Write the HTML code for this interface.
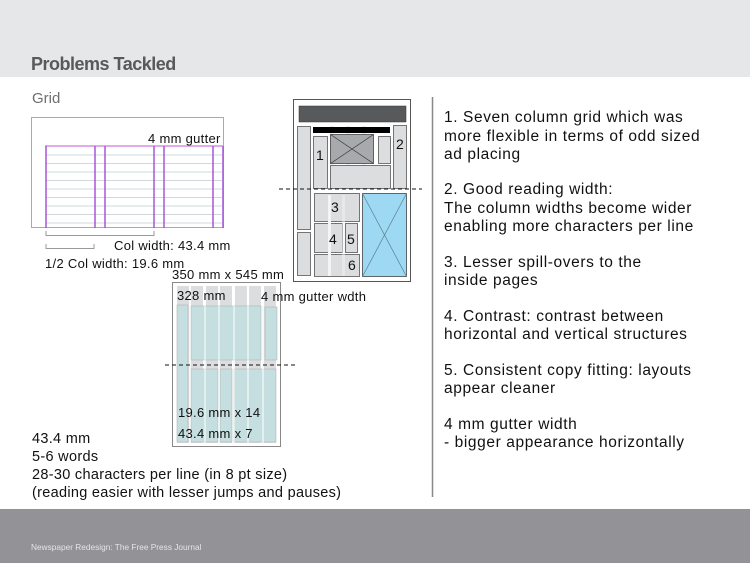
<!DOCTYPE html>
<html><head><meta charset="utf-8"><style>
body{margin:0;width:750px;height:563px;overflow:hidden;background:#fff}
svg{display:block}
text{font-family:"Liberation Sans",sans-serif}
</style></head><body>
<svg width="750" height="563" viewBox="0 0 750 563">
<rect x="0" y="0" width="750" height="77" fill="#e6e7e9"/>
<text x="31" y="70" font-size="18" font-weight="bold" fill="#58595b" letter-spacing="-0.5">Problems Tackled</text>
<text x="32" y="103" font-size="15" fill="#6d6e70">Grid</text>
<rect x="0" y="509" width="750" height="54" fill="#939397"/>
<text x="31" y="550" font-size="8.3" fill="#e4e4e6">Newspaper Redesign: The Free Press Journal</text>
<line x1="432.5" y1="97" x2="432.5" y2="497" stroke="#888" stroke-width="1.5"/>

<!-- grid box -->
<rect x="31.5" y="117.5" width="192" height="110" fill="#fff" stroke="#aaa"/>
<g stroke="#cfd8dc" stroke-width="1">
<line x1="46" y1="155" x2="224" y2="155"/><line x1="46" y1="163.5" x2="224" y2="163.5"/>
<line x1="46" y1="172" x2="224" y2="172"/><line x1="46" y1="180.5" x2="224" y2="180.5"/>
<line x1="46" y1="189" x2="224" y2="189"/><line x1="46" y1="197.5" x2="224" y2="197.5"/>
<line x1="46" y1="206" x2="224" y2="206"/><line x1="46" y1="214.5" x2="224" y2="214.5"/>
<line x1="46" y1="223" x2="224" y2="223"/>
</g>
<line x1="45" y1="146" x2="224" y2="146" stroke="#d88ee0" stroke-width="1.5"/>
<g stroke="#a855d8" stroke-width="1.5">
<line x1="46" y1="146" x2="46" y2="228"/><line x1="95" y1="146" x2="95" y2="228"/>
<line x1="105" y1="146" x2="105" y2="228"/><line x1="154" y1="146" x2="154" y2="228"/>
<line x1="164" y1="146" x2="164" y2="228"/><line x1="213" y1="146" x2="213" y2="228"/>
<line x1="223" y1="146" x2="223" y2="228"/>
</g>
<g font-size="13" fill="#111" letter-spacing="0.3">
<text x="148" y="143">4 mm gutter</text>
<text x="114" y="250">Col width: 43.4 mm</text>
<text x="45" y="268">1/2 Col width: 19.6 mm</text>
</g>
<path d="M46 231 V235.5 H154 V231" fill="none" stroke="#999"/>
<path d="M46 244 V248.5 H94 V244" fill="none" stroke="#999"/>

<!-- right page -->
<rect x="293.5" y="99.5" width="117" height="182" fill="#fff" stroke="#555"/>
<rect x="299" y="106" width="107" height="16" fill="#58595b" stroke="#333" stroke-width="0.5"/>
<g fill="#f0f0f0"><rect x="330" y="126" width="4" height="63"/><rect x="346" y="126" width="4" height="63"/><rect x="362" y="126" width="4" height="63"/></g>
<rect x="313" y="127" width="77" height="6" fill="#000"/>
<g fill="#dcdddf" stroke="#555" stroke-width="0.8">
<rect x="297.5" y="126.5" width="13" height="103"/>
<rect x="297.5" y="232.5" width="13" height="43"/>
<rect x="313.5" y="136.5" width="14" height="52"/>
<rect x="330.5" y="165.5" width="60" height="23"/>
<rect x="378.5" y="136.5" width="12" height="27"/>
<rect x="393.5" y="125.5" width="13" height="63"/>
<rect x="314.5" y="193.5" width="45" height="28"/>
<rect x="314.5" y="223.5" width="28" height="29"/>
<rect x="345.5" y="223.5" width="12" height="29"/>
<rect x="314.5" y="254.5" width="45" height="22"/>
</g>
<g fill="#f4f4f4"><rect x="328" y="195" width="3" height="81"/><rect x="342" y="195" width="3" height="81" opacity=".5"/></g>
<rect x="330.5" y="134.5" width="43" height="29" fill="#a7a9ac" stroke="#444" stroke-width="0.8"/>
<path d="M330.5 134.5 L373.5 163.5 M373.5 134.5 L330.5 163.5" stroke="#333" stroke-width="0.7"/>
<rect x="362.5" y="193.5" width="44" height="83" fill="#9dd9f3" stroke="#444" stroke-width="0.8"/>
<path d="M362.5 193.5 L406.5 276.5 M406.5 193.5 L362.5 276.5" stroke="#5a7f92" stroke-width="0.7"/>
<g font-size="14" fill="#111">
<text x="316" y="160">1</text><text x="396" y="149">2</text>
<text x="331" y="212">3</text><text x="329" y="244">4</text><text x="347" y="244">5</text><text x="348" y="270">6</text>
</g>
<line x1="279" y1="189" x2="422" y2="189" stroke="#111" stroke-width="1" stroke-dasharray="4,3"/>

<!-- second page -->
<rect x="172.5" y="282.5" width="108" height="164" fill="#fff" stroke="#888"/>
<g fill="#dcdddf">
<rect x="177" y="286" width="12" height="157"/><rect x="191" y="286" width="12" height="157"/>
<rect x="206" y="286" width="12" height="157"/><rect x="220" y="286" width="12" height="157"/>
<rect x="235" y="286" width="12" height="157"/><rect x="249" y="286" width="12" height="157"/>
<rect x="264" y="286" width="12" height="157"/>
</g>
<g fill="#c5dfe1" stroke="#aaa" stroke-width="0.5">
<rect x="177" y="305" width="11" height="137"/>
<rect x="191" y="306" width="70" height="54"/>
<rect x="265" y="307" width="12" height="53"/>
<rect x="191" y="369" width="27" height="73"/>
<rect x="220" y="369" width="12" height="73"/>
<rect x="234" y="369" width="42" height="73"/>
</g>
<g fill="#eef6f6" opacity=".7">
<rect x="189" y="306" width="2" height="136"/><rect x="204" y="306" width="2" height="136"/><rect x="218" y="306" width="2" height="136"/><rect x="233" y="306" width="2" height="136"/><rect x="247" y="306" width="2" height="136"/><rect x="262" y="306" width="2" height="136"/>
</g>
<line x1="165" y1="365" x2="295" y2="365" stroke="#111" stroke-dasharray="4,3"/>
<g font-size="13" fill="#111" letter-spacing="0.3">
<text x="172" y="279">350 mm x 545 mm</text>
<text x="177" y="300">328 mm</text>
<text x="261" y="301">4 mm gutter wdth</text>
<text x="178" y="417">19.6 mm x 14</text>
<text x="178" y="438">43.4 mm x 7</text>
</g>

<g font-size="14.5" fill="#111" letter-spacing="0.3">
<text x="32" y="443">43.4 mm</text>
<text x="32" y="461">5-6 words</text>
<text x="32" y="479">28-30 characters per line (in 8 pt size)</text>
<text x="32" y="497">(reading easier with lesser jumps and pauses)</text>
</g>

<g font-size="15.5" fill="#111" letter-spacing="0.6">
<text x="444" y="122">1. Seven column grid which was</text>
<text x="444" y="141">more flexible in terms of odd sized</text>
<text x="444" y="159">ad placing</text>
<text x="444" y="194">2. Good reading width:</text>
<text x="444" y="213">The column widths become wider</text>
<text x="444" y="231">enabling more characters per line</text>
<text x="444" y="267">3. Lesser spill-overs to the</text>
<text x="444" y="285">inside pages</text>
<text x="444" y="321">4. Contrast: contrast between</text>
<text x="444" y="339">horizontal and vertical structures</text>
<text x="444" y="375">5. Consistent copy fitting: layouts</text>
<text x="444" y="393">appear cleaner</text>
<text x="444" y="429">4 mm gutter width</text>
<text x="444" y="447">- bigger appearance horizontally</text>
</g>
</svg>
</body></html>
